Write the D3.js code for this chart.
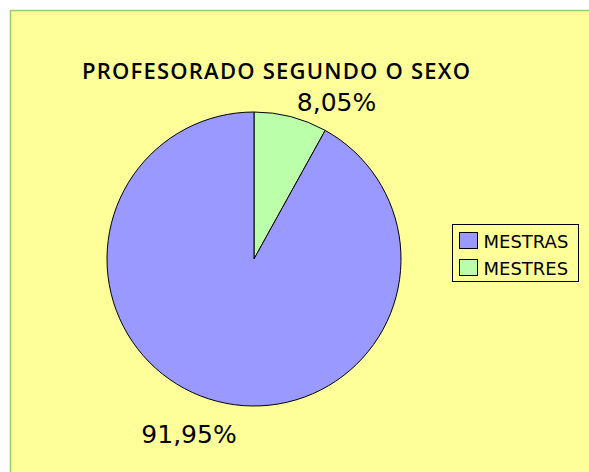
<!DOCTYPE html>
<html><head><meta charset="utf-8">
<script src="https://cdn.jsdelivr.net/npm/d3@7"></script>
<style>html,body{margin:0;padding:0;background:#fff;}svg{display:block;}</style>
</head><body>
<script>
const title = "PROFESORADO SEGUNDO O SEXO";
const categories = ["MESTRAS", "MESTRES"];
const values = [91.95, 8.05];
const labels = ["91,95%", "8,05%"];
const colors = ["#9999ff", "#bbffaa"];

const W = 589, H = 472;
const svg = d3.select("body").append("svg").attr("width", W).attr("height", H);

svg.append("rect").attr("x", 10.5).attr("y", 10.5).attr("width", W).attr("height", H)
  .attr("fill", "#ffff99").attr("stroke", "#99cc66").attr("stroke-width", 1.5);

svg.append("text").attr("x", 276).attr("y", 79).attr("text-anchor", "middle")
  .attr("font-family", "Open Sans").attr("font-weight", 600).attr("font-size", 22)
  .attr("textLength", 388).attr("lengthAdjust", "spacing")
  .text(title);

const cx = 254, cy = 259, r = 147;
const data = categories.map((c, i) => ({cat: c, value: values[i], label: labels[i], color: colors[i]}));
const ordered = [data[1], data[0]];
const pie = d3.pie().value(d => d.value).sort(null);
const arc = d3.arc().innerRadius(0).outerRadius(r);
const g = svg.append("g").attr("transform", `translate(${cx},${cy})`);
g.selectAll("path").data(pie(ordered)).join("path")
  .attr("d", arc).attr("fill", d => d.data.color)
  .attr("stroke", "#000").attr("stroke-width", 1);

const labelPos = {"MESTRES": [336.5, 111], "MESTRAS": [189, 443]};
svg.selectAll("text.lbl").data(data).join("text").attr("class", "lbl")
  .attr("x", d => labelPos[d.cat][0]).attr("y", d => labelPos[d.cat][1])
  .attr("text-anchor", "middle").attr("font-family", "DejaVu Sans").attr("font-size", 25)
  .attr("fill", "#000").text(d => d.label);

const lg = svg.append("g");
lg.append("rect").attr("x", 452.5).attr("y", 224.5).attr("width", 126).attr("height", 57)
  .attr("fill", "#ffff99").attr("stroke", "#000").attr("stroke-width", 1);
const items = lg.selectAll("g.item").data(data).join("g").attr("class", "item")
  .attr("transform", (d, i) => `translate(459.5,${232.5 + i * 27})`);
items.append("rect").attr("width", 18).attr("height", 16)
  .attr("fill", d => d.color).attr("stroke", "#000").attr("stroke-width", 1);
items.append("text").attr("x", 24).attr("y", 15.5)
  .attr("font-family", "DejaVu Sans").attr("font-size", 18)
  .attr("fill", "#000").text(d => d.cat);
</script>
</body></html>
